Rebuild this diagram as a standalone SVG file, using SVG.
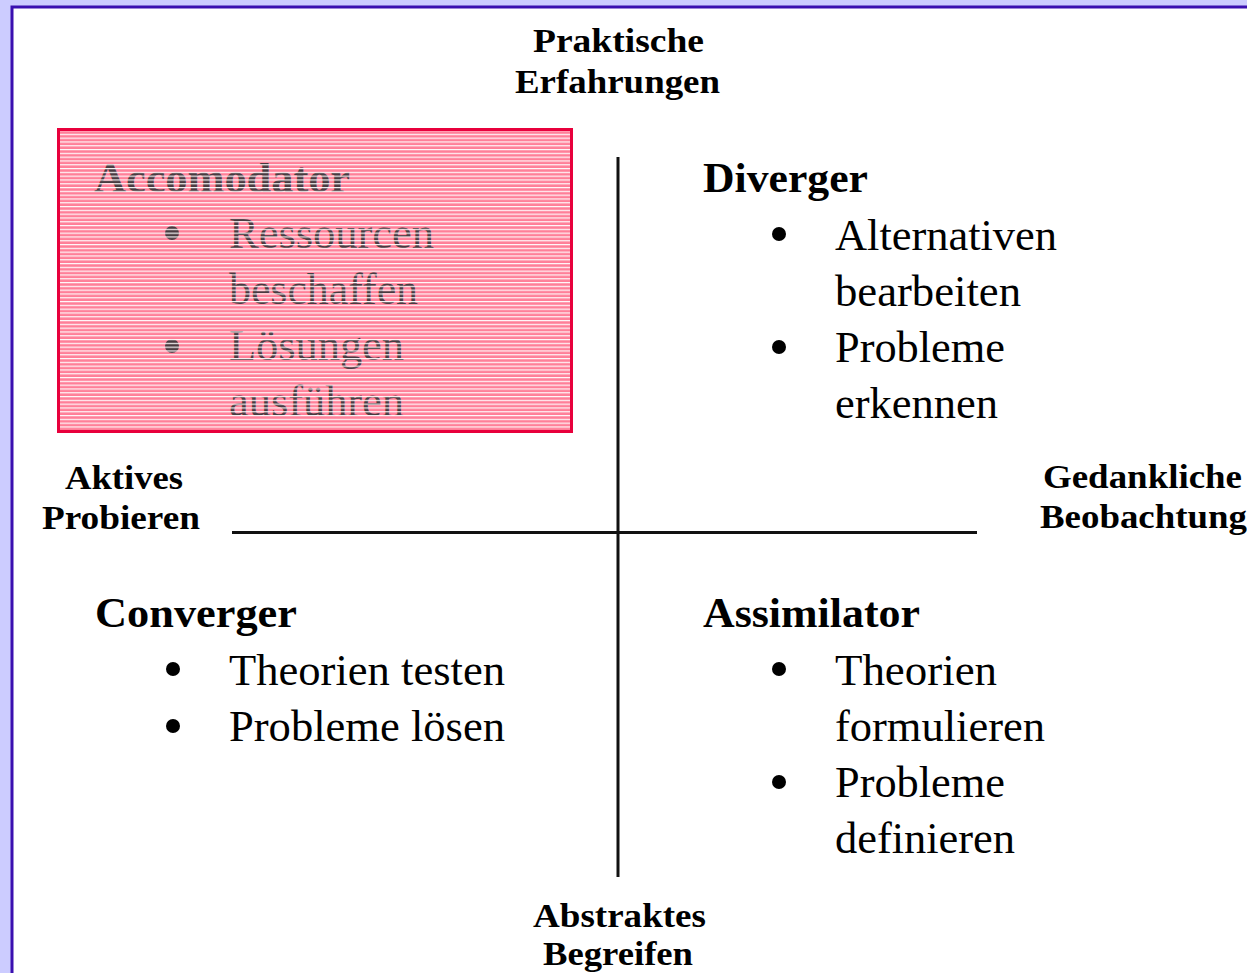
<svg xmlns="http://www.w3.org/2000/svg" width="1247" height="973" viewBox="0 0 1247 973">
<style>
.lbl{font-family:"Liberation Serif","Times New Roman",serif;font-weight:bold;font-size:33px;fill:#000}
.hd{font-family:"Liberation Serif","Times New Roman",serif;font-weight:bold;font-size:42px;fill:#000}
.it{font-family:"Liberation Serif","Times New Roman",serif;font-size:44px;fill:#000}
.gr{fill:#4a3a40}
.ax{stroke:#111;stroke-width:3;fill:none}
.bul{fill:#000}
</style>
<defs>
<pattern id="stripes" patternUnits="userSpaceOnUse" x="0" y="130" width="10" height="3.8">
<rect x="0" y="0" width="10" height="1.2" fill="#ffffff" fill-opacity="0.95"/>
</pattern>
</defs>
<rect x="0" y="0" width="1247" height="973" fill="#ccccff"/>
<rect x="12" y="7" width="1240" height="975" fill="#ffffff" stroke="#3a10b0" stroke-width="3"/>

<g id="connectors">
<line class="ax" x1="618" y1="157" x2="618" y2="877"/>
<line class="ax" x1="232" y1="532.5" x2="977" y2="532.5"/>
</g>

<g id="axis-top">
<text class="lbl" x="533" y="52" textLength="171" lengthAdjust="spacingAndGlyphs">Praktische</text>
<text class="lbl" x="515" y="93" textLength="205" lengthAdjust="spacingAndGlyphs">Erfahrungen</text>
</g>
<g id="axis-left">
<text class="lbl" x="65" y="489" textLength="118" lengthAdjust="spacingAndGlyphs">Aktives</text>
<text class="lbl" x="42" y="529" textLength="158" lengthAdjust="spacingAndGlyphs">Probieren</text>
</g>
<g id="axis-right">
<text class="lbl" x="1043" y="488" textLength="199" lengthAdjust="spacingAndGlyphs">Gedankliche</text>
<text class="lbl" x="1040" y="528" textLength="207" lengthAdjust="spacingAndGlyphs">Beobachtung</text>
</g>
<g id="axis-bottom">
<text class="lbl" x="533" y="927" textLength="173" lengthAdjust="spacingAndGlyphs">Abstraktes</text>
<text class="lbl" x="543" y="965" textLength="150" lengthAdjust="spacingAndGlyphs">Begreifen</text>
</g>

<g id="accomodator">
<rect x="58.5" y="129.5" width="513" height="302" fill="#ff7f98"/>
<text class="hd gr" x="94" y="192" textLength="256" lengthAdjust="spacingAndGlyphs">Accomodator</text>
<circle class="gr" cx="172" cy="233" r="7"/>
<text class="it gr" x="229" y="248" textLength="205" lengthAdjust="spacingAndGlyphs">Ressourcen</text>
<text class="it gr" x="229" y="304" textLength="189" lengthAdjust="spacingAndGlyphs">beschaffen</text>
<circle class="gr" cx="172" cy="346" r="7"/>
<text class="it gr" x="229" y="360" textLength="175" lengthAdjust="spacingAndGlyphs">Lösungen</text>
<text class="it gr" x="229" y="416" textLength="175" lengthAdjust="spacingAndGlyphs">ausführen</text>
<rect x="58.5" y="129.5" width="513" height="302" fill="url(#stripes)"/>
<rect x="58.5" y="129.5" width="513" height="302" fill="none" stroke="#e8003c" stroke-width="3"/>
</g>

<g id="diverger">
<text class="hd" x="703" y="192" textLength="165" lengthAdjust="spacingAndGlyphs">Diverger</text>
<circle class="bul" cx="779" cy="234" r="7"/>
<text class="it" x="835" y="250" textLength="222" lengthAdjust="spacingAndGlyphs">Alternativen</text>
<text class="it" x="835" y="306" textLength="186" lengthAdjust="spacingAndGlyphs">bearbeiten</text>
<circle class="bul" cx="779" cy="347" r="7"/>
<text class="it" x="835" y="362" textLength="170" lengthAdjust="spacingAndGlyphs">Probleme</text>
<text class="it" x="835" y="418" textLength="163" lengthAdjust="spacingAndGlyphs">erkennen</text>
</g>

<g id="converger">
<text class="hd" x="95" y="627" textLength="202" lengthAdjust="spacingAndGlyphs">Converger</text>
<circle class="bul" cx="173" cy="669" r="7"/>
<text class="it" x="229" y="685" textLength="276" lengthAdjust="spacingAndGlyphs">Theorien testen</text>
<circle class="bul" cx="173" cy="726" r="7"/>
<text class="it" x="229" y="741" textLength="276" lengthAdjust="spacingAndGlyphs">Probleme lösen</text>
</g>

<g id="assimilator">
<text class="hd" x="703" y="627" textLength="217" lengthAdjust="spacingAndGlyphs">Assimilator</text>
<circle class="bul" cx="779" cy="669" r="7"/>
<text class="it" x="835" y="685" textLength="162" lengthAdjust="spacingAndGlyphs">Theorien</text>
<text class="it" x="835" y="741" textLength="210" lengthAdjust="spacingAndGlyphs">formulieren</text>
<circle class="bul" cx="779" cy="782" r="7"/>
<text class="it" x="835" y="797" textLength="170" lengthAdjust="spacingAndGlyphs">Probleme</text>
<text class="it" x="835" y="853" textLength="180" lengthAdjust="spacingAndGlyphs">definieren</text>
</g>
</svg>
